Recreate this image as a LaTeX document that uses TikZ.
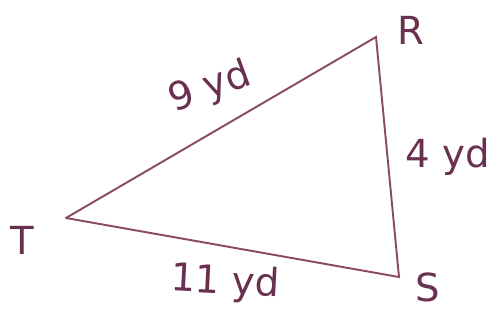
\documentclass[tikz,border=0pt]{standalone}
\usepackage{fontspec}
\setmainfont{DejaVu Sans}
\definecolor{ink}{HTML}{8A4A66}
\definecolor{txt}{HTML}{6A3050}
\tikzset{
  side/.style={draw=ink, line width=1.1pt, line cap=round},
  lbl/.style={text=txt, font=\fontsize{22}{26}\selectfont, inner sep=0pt}
}
\begin{document}
\begin{tikzpicture}[x=0.02cm,y=-0.02cm]
\useasboundingbox (0,0) rectangle (500,325);
\coordinate (T) at (66,218);
\coordinate (R) at (376,37);
\coordinate (S) at (399,277);
\draw[side] (T) -- (R) -- (S) -- (T);
\node[lbl] (tT) at (22,240) {T};
\node[lbl] (tR) at (411,30) {R};
\node[lbl] (tS) at (428,287) {S};
\node[lbl, rotate=20] (a) at (210,88) {9 yd};
\node[lbl] (b) at (448,157) {4 yd};
\node[lbl, rotate=-3] (c) at (225,283) {11 yd};
\end{tikzpicture}
\end{document}
